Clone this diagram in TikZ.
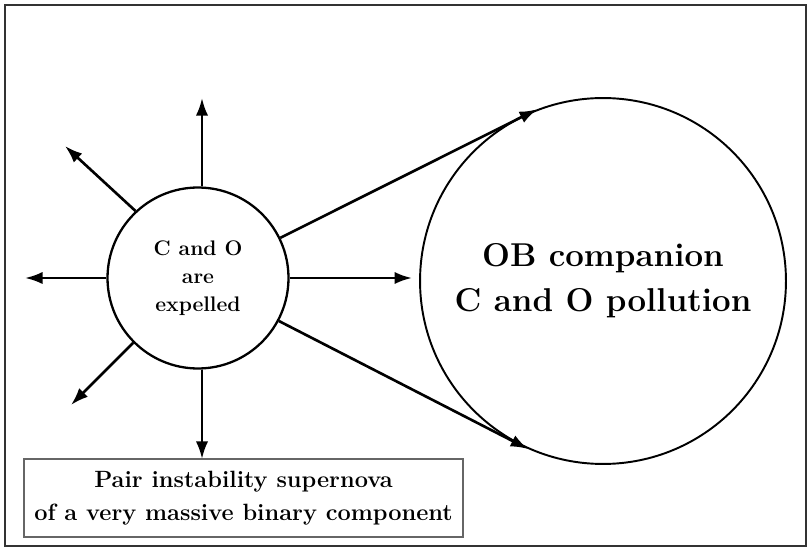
\documentclass[tikz,border=0pt]{standalone}
\usepackage{tikz}
\usetikzlibrary{arrows.meta}

\begin{document}
\begin{tikzpicture}[x=.02cm,y=-.02cm,line width=1.5pt,font=\bfseries,
  flow/.style={-{Latex[length=10pt,width=7pt]}}]
\useasboundingbox (0,0) rectangle (811,550);
\draw[line width=1.2pt,black!80] (5,5) rectangle (806,546);
\node[circle,draw,line width=1.3pt,inner sep=0pt,minimum size=3.62cm,align=center,font=\bfseries\fontsize{12}{16}\selectfont] (sn) at (198,278) {C and O\\are\\expelled};
\node[circle,draw,line width=1.1pt,inner sep=0pt,minimum size=7.32cm,align=center,font=\bfseries\fontsize{18.8}{25.5}\selectfont] (ob) at (603,281) {OB companion\\C and O pollution};
\node[draw=black!60,line width=.8pt,minimum width=8.78cm,minimum height=1.56cm,inner sep=0pt,align=center,font=\bfseries\fontsize{13.4}{18.7}\selectfont] (psn) at (243.5,498) {Pair instability supernova\\of a very massive binary component};
\coordinate (up) at (202,98);
\coordinate (dn) at (202,459);
\coordinate (lt) at (25,278);
\coordinate (ul) at (65,146);
\coordinate (ll) at (71,405);
\draw[flow] (sn.north -| up) -- (up);
\draw[flow] (sn.west) -- (lt);
\draw[flow] (sn.133) -- (ul);
\draw[flow] (sn.225) -- (ll);
\draw[flow,shorten >=.14cm] (sn.east) -- (sn.east -| ob.west);
\draw[flow] (sn.26) -- (ob.111);
\draw[flow] (sn.-28) -- (ob.246);
\draw[flow] (sn.south -| dn) -- (dn);
\end{tikzpicture}
\end{document}
